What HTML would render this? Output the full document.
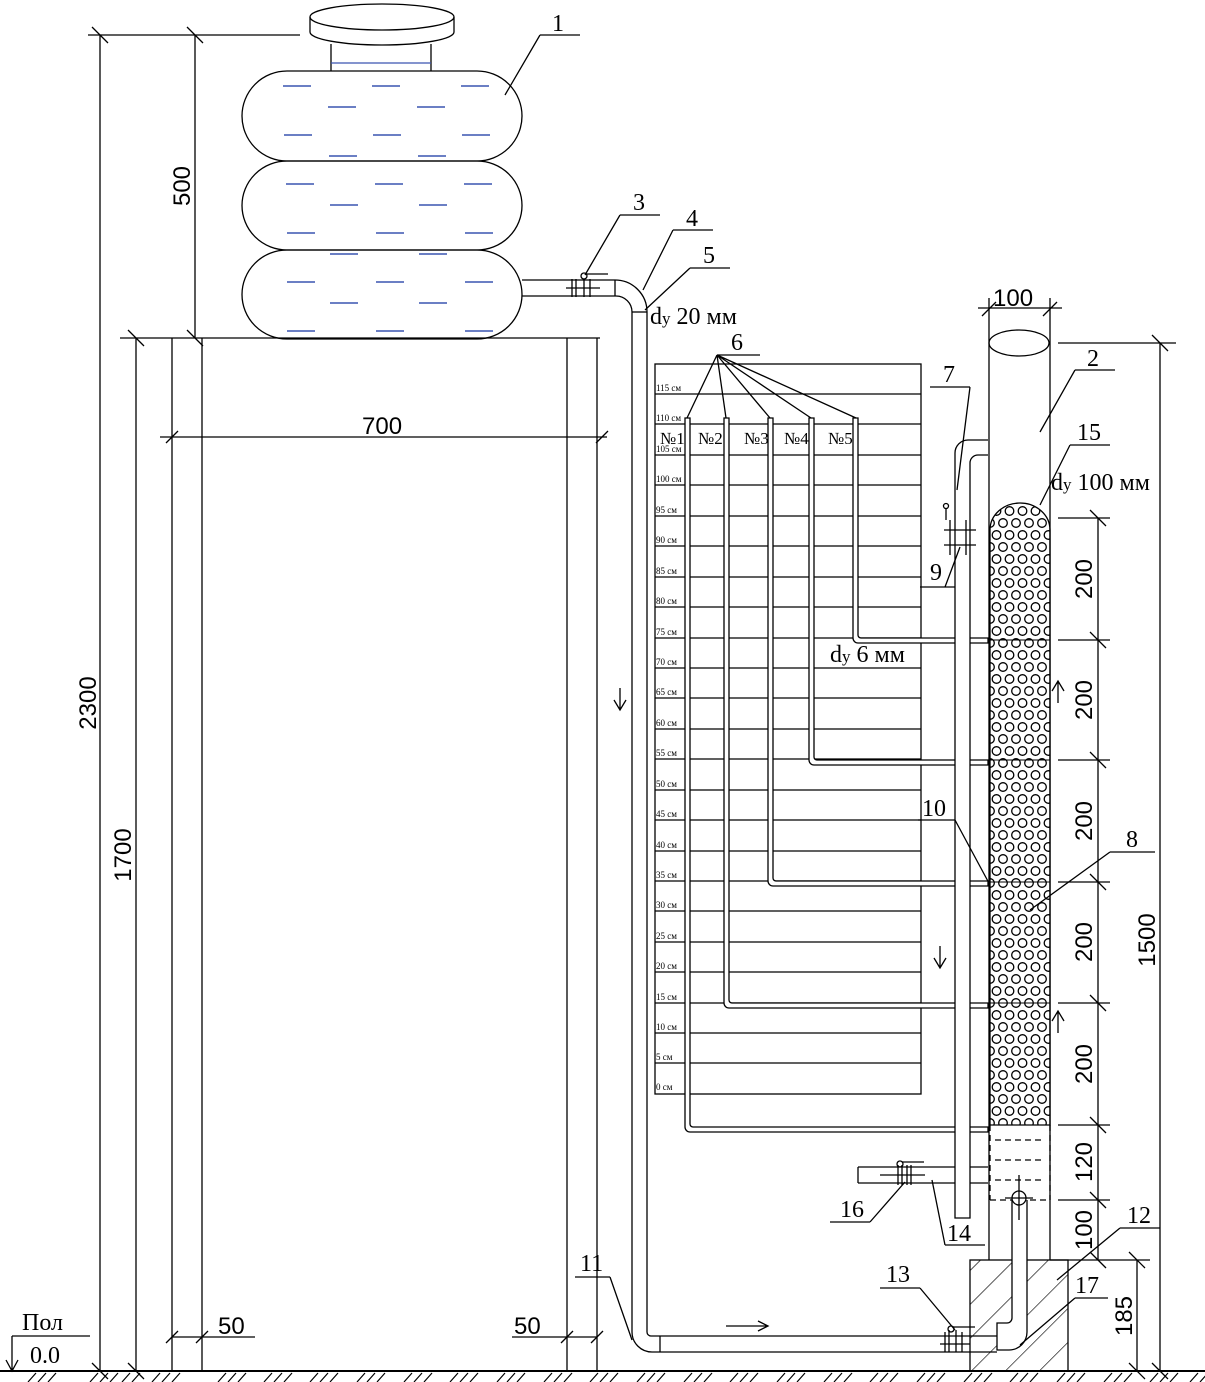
<!DOCTYPE html>
<html><head><meta charset="utf-8"><style>
html,body{margin:0;padding:0;background:#fff}
svg{display:block}
text{font-family:"Liberation Serif",serif;fill:#000}
.s{font-family:"Liberation Sans",sans-serif}
</style></head><body>
<svg width="1205" height="1382" viewBox="0 0 1205 1382" xmlns="http://www.w3.org/2000/svg">
<defs>
<pattern id="hx" x="990" y="505" width="26" height="24" patternUnits="userSpaceOnUse">
<g fill="none" stroke="#000" stroke-width="1.3">
<circle cx="6.5" cy="6" r="4.3"/><circle cx="19.5" cy="6" r="4.3"/>
<circle cx="0" cy="18" r="4.3"/><circle cx="13" cy="18" r="4.3"/><circle cx="26" cy="18" r="4.3"/>
</g></pattern>
<pattern id="hatch" width="24" height="24" patternUnits="userSpaceOnUse" patternTransform="rotate(45)">
<line x1="0" y1="0" x2="0" y2="24" stroke="#000" stroke-width="1.3"/></pattern>
</defs>
<g stroke="#000" fill="none" stroke-width="1.3">
<!-- ground -->
<line x1="0" y1="1371" x2="1205" y2="1371" stroke-width="2"/>
<g stroke-width="1.2">
<path d="M28 1382l8-9M38 1382l8-9M48 1382l8-9M90 1382l8-9M100 1382l8-9M110 1382l8-9M122 1382l8-9M132 1382l8-9M152 1382l8-9M162 1382l8-9M172 1382l8-9M218 1382l8-9M228 1382l8-9M238 1382l8-9M264 1382l8-9M274 1382l8-9M284 1382l8-9M310 1382l8-9M320 1382l8-9M330 1382l8-9M357 1382l8-9M367 1382l8-9M377 1382l8-9M404 1382l8-9M414 1382l8-9M424 1382l8-9M450 1382l8-9M460 1382l8-9M470 1382l8-9M497 1382l8-9M507 1382l8-9M517 1382l8-9M544 1382l8-9M554 1382l8-9M564 1382l8-9M590 1382l8-9M600 1382l8-9M610 1382l8-9M637 1382l8-9M647 1382l8-9M657 1382l8-9M684 1382l8-9M694 1382l8-9M704 1382l8-9M730 1382l8-9M740 1382l8-9M750 1382l8-9M777 1382l8-9M787 1382l8-9M797 1382l8-9M824 1382l8-9M834 1382l8-9M844 1382l8-9M870 1382l8-9M880 1382l8-9M890 1382l8-9M917 1382l8-9M927 1382l8-9M937 1382l8-9M964 1382l8-9M974 1382l8-9M984 1382l8-9M1010 1382l8-9M1020 1382l8-9M1030 1382l8-9M1057 1382l8-9M1067 1382l8-9M1077 1382l8-9M1104 1382l8-9M1114 1382l8-9M1124 1382l8-9M1150 1382l8-9M1160 1382l8-9M1170 1382l8-9M1190 1382l8-9M1200 1382l8-9"/>
</g>
<!-- left dims -->
<line x1="100" y1="35" x2="100" y2="1371"/>
<line x1="88" y1="35" x2="300" y2="35"/>
<line x1="195" y1="35" x2="195" y2="338"/>
<line x1="136" y1="338" x2="136" y2="1371"/>
<line x1="120" y1="338" x2="600" y2="338"/>
<path d="M92 27l16 16M187 27l16 16M187 330l16 16M128 330l16 16M92 1363l16 16M128 1363l16 16"/>
<!-- stand -->
<line x1="172" y1="338" x2="172" y2="1371"/><line x1="202" y1="338" x2="202" y2="1371"/>
<line x1="567" y1="338" x2="567" y2="1371"/><line x1="597" y1="338" x2="597" y2="1371"/>
<line x1="160" y1="437" x2="607" y2="437"/>
<path d="M166 443l12-12M596 443l12-12"/>
<line x1="172" y1="1337" x2="255" y2="1337"/><path d="M166 1343l12-12M196 1343l12-12"/>
<line x1="512" y1="1337" x2="597" y2="1337"/><path d="M561 1343l12-12M591 1343l12-12"/>
<!-- tank -->
<ellipse cx="382" cy="17" rx="72" ry="13"/>
<path d="M310 17v15M454 17v15"/>
<path d="M310 32a72 13 0 0 0 144 0"/>
<path d="M331 44v27M431 44v27"/>
<line x1="331" y1="63" x2="431" y2="63" stroke="#3a55b0"/>
<rect x="242" y="71" width="280" height="90" rx="45"/>
<rect x="242" y="161" width="280" height="89" rx="45"/>
<rect x="242" y="250" width="280" height="89" rx="45"/>
<g stroke="#3a55b0" stroke-width="1.5">
<path d="M283 86h28M372 86h28M461 86h28M328 107h28M417 107h28M284 135h28M373 135h28M462 135h28M329 156h28M418 156h28"/>
<path d="M286 184h28M375 184h28M464 184h28M330 205h28M419 205h28M287 233h28M376 233h28M465 233h28M330 254h28M419 254h28"/>
<path d="M287 282h28M376 282h28M465 282h28M330 303h28M419 303h28M287 331h28M376 331h28M465 331h28"/>
</g>
<!-- main pipe -->
<path d="M522 296h94a16 16 0 0 1 16 16v1020a20 20 0 0 0 20 20h345"/>
<path d="M522 280h93a32 32 0 0 1 32 32v1020a4 4 0 0 0 4 4h350"/>
<line x1="632" y1="312" x2="647" y2="312"/>
<line x1="615" y1="280" x2="615" y2="296"/>
<line x1="660" y1="1336" x2="660" y2="1352"/>
<!-- valve 3 -->
<path d="M572 279v18M576 279v18M584 279v18M590 279v18M566 288h34"/>
<circle cx="584" cy="276" r="3"/><path d="M586 274h22"/>
<!-- board -->
<rect x="655" y="364" width="266" height="730"/>
<g stroke-width="1.2">
<path d="M655 394h266M655 424h266M655 455h266M655 485h266M655 516h266M655 546h266M655 577h266M655 607h266M655 638h266M655 668h266M655 698h266M655 729h266M655 759h266M655 790h266M655 820h266M655 851h266M655 881h266M655 911h266M655 942h266M655 972h266M655 1003h266M655 1033h266M655 1063h266"/>
</g>
<!-- tubes -->
<g fill="#fff" stroke-width="1.3">
<path d="M685 418v709a5 5 0 0 0 5 5h298v-5h-295a3 3 0 0 1 -3 -3v-706z"/>
<path d="M724 418v585a5 5 0 0 0 5 5h259v-5h-256a3 3 0 0 1 -3 -3v-582z"/>
<path d="M768 418v463a5 5 0 0 0 5 5h215v-5h-212a3 3 0 0 1 -3 -3v-460z"/>
<path d="M809 418v342a5 5 0 0 0 5 5h174v-5h-171a3 3 0 0 1 -3 -3v-339z"/>
<path d="M853 418v220a5 5 0 0 0 5 5h130v-5h-127a3 3 0 0 1 -3 -3v-217z"/>
</g>
<!-- leader 6 -->
<path d="M717 355h43M717 355l-30 63M717 355l9 63M717 355l53 63M717 355l94 63M717 355l139 63"/>
<!-- pipe 7 / 10 -->
<path d="M988 440h-20a13 13 0 0 0 -13 13v765h15v-755a8 8 0 0 1 8 -8h10" fill="#fff"/>
<path d="M950 520v35M966 520v35M944 530h32M944 545h32"/>
<path d="M946 520v-12"/><circle cx="946" cy="506" r="2.5"/>
<!-- column 2 -->
<path d="M989 298v962M1050 298v962"/>
<line x1="978" y1="308" x2="1062" y2="308"/><path d="M982 316l14-14M1043 316l14-14"/>
<ellipse cx="1019" cy="343" rx="30" ry="13"/>
<line x1="1058" y1="343" x2="1176" y2="343"/>
<!-- filling -->
<path d="M990 1125V530a30 27 0 0 1 60 0v595z" fill="url(#hx)"/>
<path d="M990 1125v75M1050 1125v75" stroke-dasharray="6 4"/>
<g stroke-dasharray="6 4"><path d="M995 1140h50M995 1160h50M995 1180h50M990 1200h60"/></g>
<path d="M990 640h60M990 760h60M990 882h60M990 1003h60M990 1125h60" stroke-width="1"/>
<!-- right dims -->
<line x1="1098" y1="518" x2="1098" y2="1260"/>
<path d="M1058 518h52M1058 640h52M1058 760h52M1058 882h52M1058 1003h52M1058 1125h52M1058 1200h52"/>
<path d="M1090 510l16 16M1090 632l16 16M1090 752l16 16M1090 874l16 16M1090 995l16 16M1090 1117l16 16M1090 1192l16 16M1090 1252l16 16"/>
<line x1="1160" y1="343" x2="1160" y2="1371"/>
<path d="M1152 335l16 16M1152 1363l16 16"/>
<line x1="1137" y1="1260" x2="1137" y2="1371"/>
<line x1="1050" y1="1260" x2="1150" y2="1260"/>
<path d="M1129 1252l16 16M1129 1363l16 16"/>
<!-- base block -->
<rect x="970" y="1260" width="98" height="111" fill="url(#hatch)"/>
<!-- riser pipe -->
<path d="M1012 1200v118a5 5 0 0 1 -5 5h-10v27h12a18 18 0 0 0 18 -18v-132" fill="#fff"/>
<circle cx="1019" cy="1198" r="7" fill="#fff"/>
<path d="M1019 1175v45M1005 1198h28"/>
<!-- valve 13 -->
<path d="M945 1332v20M949 1330v22M956 1330v22M962 1332v20M940 1344h30"/>
<circle cx="951" cy="1329" r="3"/><path d="M953 1327h22"/>
<!-- pipe 14 -->
<path d="M858 1167h97M970 1167h18M858 1183h97M970 1183h18M858 1167v16"/>
<path d="M898 1165v20M902 1165v20M907 1165v20M911 1165v20M880 1175h45"/>
<circle cx="900" cy="1164" r="3"/><path d="M902 1162h22"/>
<!-- arrows -->
<path d="M620 688v22M614 700l6 10 6-10"/>
<path d="M940 946v22M934 958l6 10 6-10"/>
<path d="M1058 703v-22M1052 691l6-10 6 10"/>
<path d="M1058 1033v-22M1052 1021l6-10 6 10"/>
<path d="M726 1326h42M758 1321l10 5-10 5"/>
<!-- leaders -->
<path d="M540 35h40M540 35l-35 60"/>
<path d="M1075 370h40M1075 370l-35 62"/>
<path d="M620 215h40M620 215l-35 60"/>
<path d="M673 230h40M673 230l-30 60"/>
<path d="M690 268h40M690 268l-45 42"/>
<path d="M930 387h40M970 387l-13 103"/>
<path d="M920 587h35M945 587l15-40"/>
<path d="M1070 445h40M1070 445l-30 60"/>
<path d="M918 820h37M955 820l35 65"/>
<path d="M1110 852h45M1110 852l-80 58"/>
<path d="M830 1222h40M870 1222l35-40"/>
<path d="M945 1245h40M945 1245l-13-65"/>
<path d="M1120 1228h40M1120 1228l-63 52"/>
<path d="M880 1288h40M920 1288l35 42"/>
<path d="M1075 1298h33M1075 1298l-55 47"/>
<path d="M575 1277h35M610 1277l22 63"/>
<path d="M12 1336h78M12 1336v35M6 1360l6 11 6-11"/>
</g>
<!-- text -->
<g font-size="24">
<text x="552" y="31">1</text>
<text x="1087" y="366">2</text>
<text x="633" y="210">3</text>
<text x="686" y="226">4</text>
<text x="703" y="263">5</text>
<text x="731" y="350">6</text>
<text x="943" y="382">7</text>
<text x="1126" y="847">8</text>
<text x="930" y="580">9</text>
<text x="922" y="816">10</text>
<text x="580" y="1271">11</text>
<text x="1127" y="1223">12</text>
<text x="886" y="1282">13</text>
<text x="947" y="1241">14</text>
<text x="1077" y="440">15</text>
<text x="840" y="1217">16</text>
<text x="1075" y="1293">17</text>
<text x="650" y="324">d<tspan font-size="17">y</tspan> 20 мм</text>
<text x="1051" y="490">d<tspan font-size="17">y</tspan> 100 мм</text>
<text x="830" y="662">d<tspan font-size="17">y</tspan> 6 мм</text>
<text x="22" y="1330">Пол</text>
<text x="30" y="1363">0.0</text>
</g>
<g font-size="17">
<text x="660" y="444">№1</text><text x="698" y="444">№2</text><text x="744" y="444">№3</text><text x="784" y="444">№4</text><text x="828" y="444">№5</text>
</g>
<g font-size="9">
<text x="656" y="391">115 см</text><text x="656" y="421">110 см</text><text x="656" y="452">105 см</text><text x="656" y="482">100 см</text>
<text x="656" y="513">95 см</text><text x="656" y="543">90 см</text><text x="656" y="574">85 см</text><text x="656" y="604">80 см</text>
<text x="656" y="635">75 см</text><text x="656" y="665">70 см</text><text x="656" y="695">65 см</text><text x="656" y="726">60 см</text>
<text x="656" y="756">55 см</text><text x="656" y="787">50 см</text><text x="656" y="817">45 см</text><text x="656" y="848">40 см</text>
<text x="656" y="878">35 см</text><text x="656" y="908">30 см</text><text x="656" y="939">25 см</text><text x="656" y="969">20 см</text>
<text x="656" y="1000">15 см</text><text x="656" y="1030">10 см</text><text x="656" y="1060">5 см</text><text x="656" y="1090">0 см</text>
</g>
<g class="s" font-size="24">
<text class="s" x="362" y="434">700</text>
<text class="s" x="218" y="1334">50</text>
<text class="s" x="514" y="1334">50</text>
<text class="s" x="993" y="306">100</text>
<text class="s" transform="translate(190,186) rotate(-90)" text-anchor="middle">500</text>
<text class="s" transform="translate(96,703) rotate(-90)" text-anchor="middle">2300</text>
<text class="s" transform="translate(131,855) rotate(-90)" text-anchor="middle">1700</text>
<text class="s" transform="translate(1155,940) rotate(-90)" text-anchor="middle">1500</text>
<text class="s" transform="translate(1132,1316) rotate(-90)" text-anchor="middle">185</text>
<text class="s" transform="translate(1092,579) rotate(-90)" text-anchor="middle">200</text>
<text class="s" transform="translate(1092,700) rotate(-90)" text-anchor="middle">200</text>
<text class="s" transform="translate(1092,821) rotate(-90)" text-anchor="middle">200</text>
<text class="s" transform="translate(1092,942) rotate(-90)" text-anchor="middle">200</text>
<text class="s" transform="translate(1092,1064) rotate(-90)" text-anchor="middle">200</text>
<text class="s" transform="translate(1092,1162) rotate(-90)" text-anchor="middle">120</text>
<text class="s" transform="translate(1092,1230) rotate(-90)" text-anchor="middle">100</text>
</g>
</svg>
</body></html>
